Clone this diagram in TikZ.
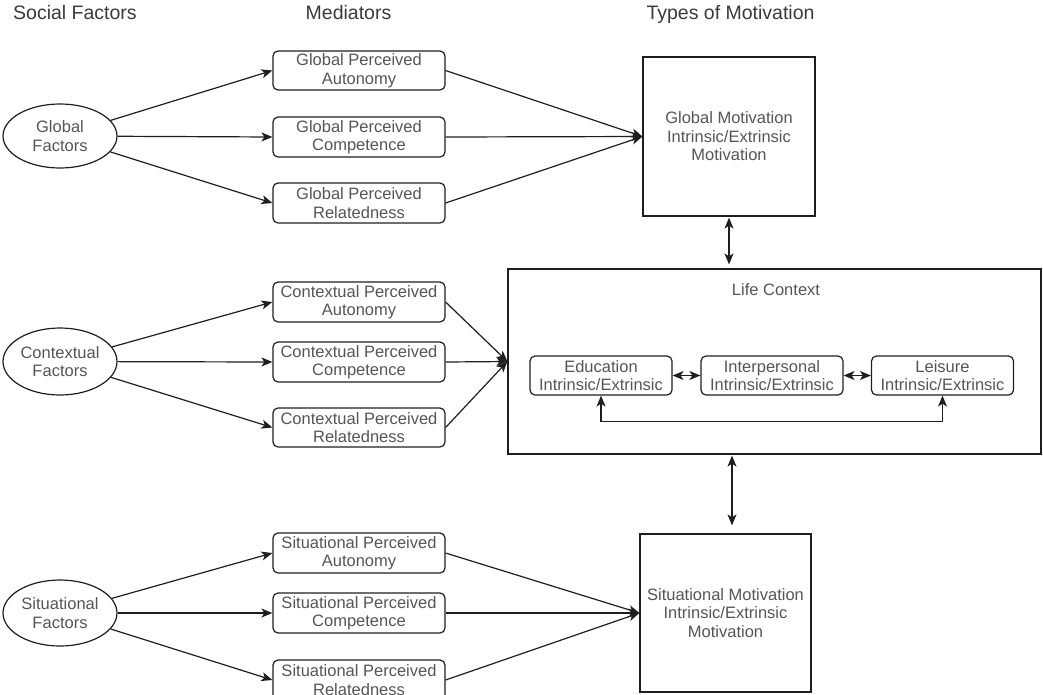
\documentclass[tikz,border=0pt]{standalone}
\usepackage{fontspec}
\setmainfont{Liberation Sans}
\usetikzlibrary{arrows.meta,shapes.geometric}
\definecolor{linec}{HTML}{1E1E1E}
\definecolor{textc}{HTML}{555555}
\definecolor{headc}{HTML}{3A3A3A}
\newcommand{\bodyfnt}{\fontsize{16.5}{18.5}\selectfont}
\newcommand{\headfnt}{\fontsize{19.5}{22}\selectfont}
\tikzset{
  med/.style={draw=linec, line width=1.2pt, rectangle, rounded corners=5pt,
    minimum width=172pt, minimum height=40pt, inner sep=0pt, align=center,
    font=\bodyfnt, text=textc},
  fac/.style={draw=linec, line width=1.2pt, ellipse, minimum width=114pt,
    minimum height=66pt, inner sep=0pt, align=center, font=\bodyfnt, text=textc},
  motiv/.style={draw=linec, line width=1.2pt, rectangle, inner sep=0pt,
    align=center, font=\bodyfnt, text=textc},
  inner/.style={draw=linec, line width=1.2pt, rectangle, rounded corners=5pt,
    minimum width=142pt, minimum height=39pt, inner sep=0pt, align=center,
    font=\bodyfnt, text=textc},
  head/.style={font=\headfnt, text=headc, inner sep=0pt},
  arr/.style={draw=linec, line width=1.2pt, -{Stealth[length=11pt,width=9pt,inset=3pt]}},
  darr/.style={draw=linec, line width=1.2pt,
    {Stealth[length=11pt,width=9pt,inset=3pt]}-{Stealth[length=11pt,width=9pt,inset=3pt]}}
}
\begin{document}
\begin{tikzpicture}[x=1pt,y=-1pt]
\useasboundingbox (0,0) rectangle (1043,694);
% headers
\node[head, anchor=base west] (h1) at (13,19) {Social Factors};
\node[head, anchor=base] (h2) at (348.5,19) {Mediators};
\node[head, anchor=base] (h3) at (730.5,19) {Types of Motivation};
% factors
\node[fac, minimum height=64pt] (gf) at (60,136) {Global\\Factors};
\node[fac, minimum height=67pt] (cf) at (60,361.5) {Contextual\\Factors};
\node[fac] (sf) at (60,613) {Situational\\Factors};
% mediators
\node[med, minimum height=39pt] (ga) at (359,70.5) {Global Perceived\\Autonomy};
\node[med] (gc) at (359,137) {Global Perceived\\Competence};
\node[med] (gr) at (359,203) {Global Perceived\\Relatedness};
\node[med] (ca) at (359,302) {Contextual Perceived\\Autonomy};
\node[med] (cc) at (359,362) {Contextual Perceived\\Competence};
\node[med, minimum height=39pt] (cr) at (359,427.5) {Contextual Perceived\\Relatedness};
\node[med] (sa) at (359,553) {Situational Perceived\\Autonomy};
\node[med] (sc) at (359,613) {Situational Perceived\\Competence};
\node[med] (sr) at (359,680) {Situational Perceived\\Relatedness};
% motivation boxes
\node[motiv, minimum width=172pt, minimum height=159pt] (gm) at (729,136.5)
  {Global Motivation\\Intrinsic/Extrinsic\\Motivation};
\node[motiv, minimum width=533pt, minimum height=185pt] (lc) at (774.5,361.5) {};
\node[font=\bodyfnt, text=textc, inner sep=0pt] (lct) at (776,290) {Life Context};
\node[motiv, minimum width=171pt, minimum height=158pt] (sm) at (725.5,613)
  {Situational Motivation\\Intrinsic/Extrinsic\\Motivation};
% inner boxes
\node[inner] (ed) at (601,375.5) {Education\\Intrinsic/Extrinsic};
\node[inner] (ip) at (772,375.5) {Interpersonal\\Intrinsic/Extrinsic};
\node[inner] (le) at (942.5,375.5) {Leisure\\Intrinsic/Extrinsic};
% factor -> mediator arrows
\foreach \f/\a/\b/\c in {gf/ga/gc/gr, cf/ca/cc/cr, sf/sa/sc/sr}{
  \draw[arr] (\f) -- (\a.west);
  \draw[arr] (\f) -- (\b.west);
  \draw[arr] (\f) -- (\c.west);
}
% mediator -> motivation arrows
\foreach \m in {ga,gc,gr}{ \draw[arr] (\m.east) -- (gm.west); }
\foreach \m in {ca,cc,cr}{ \draw[arr] (\m.east) -- (lc.west); }
\foreach \m in {sa,sc,sr}{ \draw[arr] (\m.east) -- (sm.west); }
% vertical double arrows
\draw[darr, shorten >=4pt, shorten <=1pt] (gm.south) -- (gm.south |- lc.north);
\coordinate (lsx) at (732,0);
\draw[darr, shorten >=8pt, shorten <=1pt] (lc.south -| lsx) -- (sm.north -| lsx);
% inner arrows
\draw[darr] (ed.east) -- (ip.west);
\draw[darr] (ip.east) -- (le.west);
\draw[darr] (ed.south) -- ++(0,26) -| (le.south);
\end{tikzpicture}
\end{document}
